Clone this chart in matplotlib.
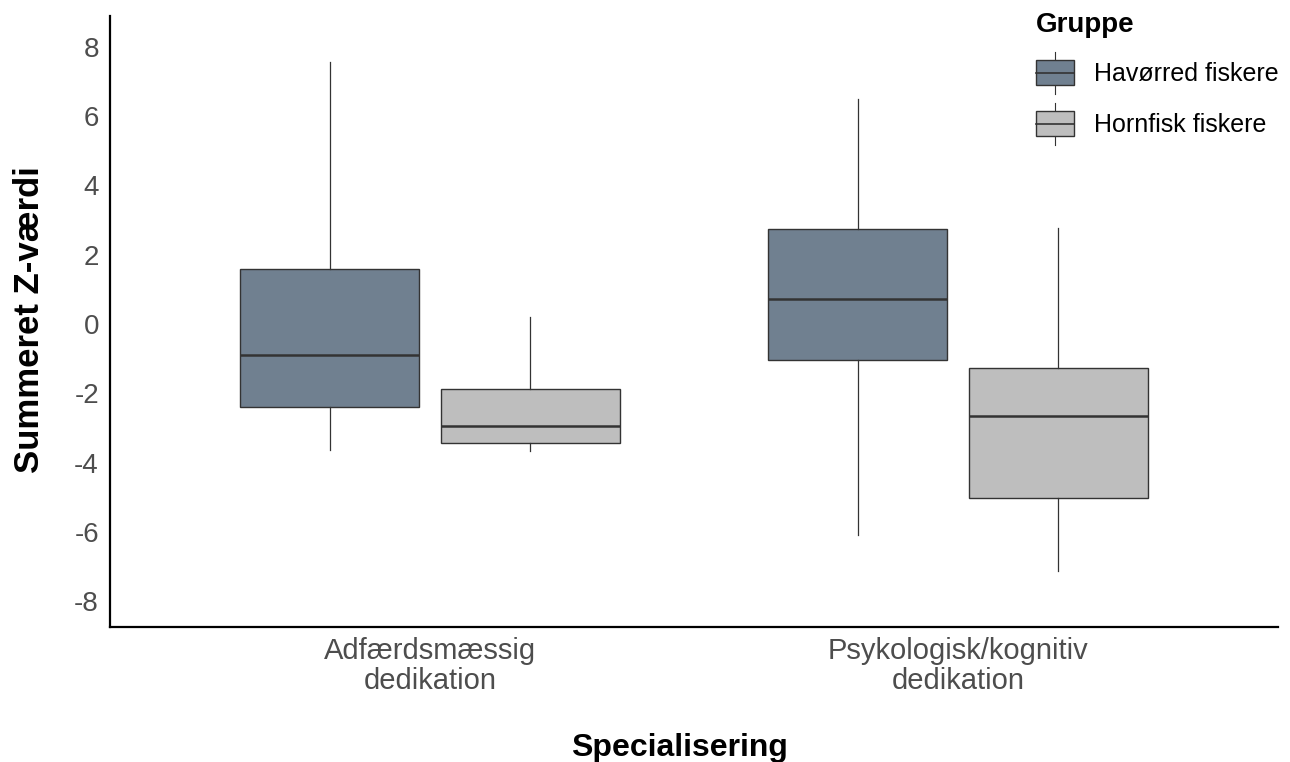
import matplotlib.pyplot as plt
from matplotlib.patches import Rectangle
from matplotlib.lines import Line2D
from matplotlib.legend_handler import HandlerBase

groups = ["Havørred fiskere", "Hornfisk fiskere"]
categories = ["Adfærdsmæssig\ndedikation", "Psykologisk/kognitiv\ndedikation"]
colors = ["#708090", "#BEBEBE"]

# box stats per group, one value per category
hav_whislo = [-3.64, -6.10]
hav_q1 = [-2.41, -1.05]
hav_med = [-0.91, 0.72]
hav_q3 = [1.58, 2.73]
hav_whishi = [7.56, 6.50]

horn_whislo = [-3.66, -7.12]
horn_q1 = [-3.42, -5.03]
horn_med = [-2.95, -2.65]
horn_q3 = [-1.89, -1.26]
horn_whishi = [0.19, 2.78]

FONT = ["Liberation Sans Narrow", "Liberation Sans", "DejaVu Sans"]
plt.rcParams["font.family"] = FONT
EDGE = "#333333"


def make_stats(whislo, q1, med, q3, whishi):
    return [
        {"whislo": a, "q1": b, "med": c, "q3": d, "whishi": e, "fliers": []}
        for a, b, c, d, e in zip(whislo, q1, med, q3, whishi)
    ]


class BoxHandler(HandlerBase):
    # small boxplot glyph for the legend keys
    def create_artists(self, legend, orig_handle, xdescent, ydescent,
                       width, height, fontsize, trans):
        fc = orig_handle.get_facecolor()
        x0 = -xdescent
        cy = -ydescent + height / 2
        bh = 18.0
        rect = Rectangle((x0, cy - bh / 2), width, bh, facecolor=fc,
                         edgecolor=EDGE, linewidth=1.0, transform=trans)
        cx = x0 + width / 2
        med = Line2D([x0, x0 + width], [cy, cy],
                     color=EDGE, linewidth=1.2, transform=trans)
        w1 = Line2D([cx, cx], [cy + bh / 2, cy + bh / 2 + 6],
                    color=EDGE, linewidth=0.8, transform=trans)
        w2 = Line2D([cx, cx], [cy - bh / 2, cy - bh / 2 - 6],
                    color=EDGE, linewidth=0.8, transform=trans)
        return [w1, w2, rect, med]


fig = plt.figure(figsize=(12.9, 7.62), dpi=100)
ax = fig.add_axes([110 / 1290, 1 - 627 / 762, (1278 - 110) / 1290, (627 - 16) / 762])

all_stats = [
    make_stats(hav_whislo, hav_q1, hav_med, hav_q3, hav_whishi),
    make_stats(horn_whislo, horn_q1, horn_med, horn_q3, horn_whishi),
]
offsets = [-0.19, 0.19]
for stats, off, col in zip(all_stats, offsets, colors):
    pos = [i + 1 + off for i in range(len(categories))]
    ax.bxp(stats, positions=pos, widths=0.34, patch_artist=True,
           showcaps=False, showfliers=False,
           boxprops=dict(facecolor=col, edgecolor=EDGE, linewidth=1.0),
           medianprops=dict(color=EDGE, linewidth=1.8),
           whiskerprops=dict(color=EDGE, linewidth=0.9))

ax.set_xlim(0.394, 2.606)
ax.set_ylim(-8.74, 8.88)
ax.set_xticks([1, 2])
ax.set_xticklabels(categories, fontsize=21, color="#4D4D4D", linespacing=1.12)
ax.set_yticks(range(-8, 9, 2))
ax.set_yticklabels([str(v) for v in range(-8, 9, 2)], fontsize=20, color="#4D4D4D")
ax.tick_params(length=0)
ax.tick_params(axis="y", pad=8)
ax.tick_params(axis="x", pad=7)

for s in ["top", "right"]:
    ax.spines[s].set_visible(False)
for s in ["left", "bottom"]:
    ax.spines[s].set_linewidth(1.6)
    ax.spines[s].set_color("black")

ax.set_xlabel("Specialisering", fontsize=23, fontweight="bold")
ax.xaxis.set_label_coords((679 - 110) / 1168, -0.173)
ax.set_ylabel("Summeret Z-værdi", fontsize=25, fontweight="bold",
              family=["Liberation Sans", "DejaVu Sans"])
ax.yaxis.set_label_coords(-(110 - 46) / 1168, (627 - 320) / 611)

handles = [Rectangle((0, 0), 1, 1, facecolor=c) for c in colors]
leg = ax.legend(handles, groups, title="Gruppe", handler_map={Rectangle: BoxHandler()},
                loc="upper left", bbox_to_anchor=(1026 / 1290, 1 - 2 / 762),
                bbox_transform=fig.transFigure, frameon=False, fontsize=18,
                title_fontproperties={"weight": "bold", "size": 20, "family": FONT},
                handlelength=1.5, handleheight=1.62, labelspacing=0.74,
                handletextpad=0.8, borderaxespad=0)
leg._legend_box.align = "left"

fig.savefig("out.png", dpi=100)
